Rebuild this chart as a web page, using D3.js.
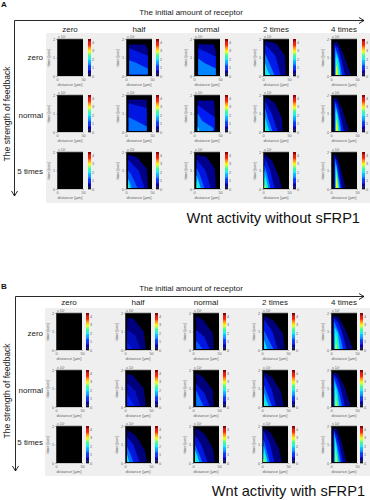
<!DOCTYPE html>
<html>
<head>
<meta charset="utf-8">
<script src="https://cdn.jsdelivr.net/npm/d3@7"></script>
<style>
  html, body { margin: 0; padding: 0; background: #fff; }
  text { font-family: "Liberation Sans", Arial, sans-serif; }
</style>
</head>
<body>
<div id="chart"></div>
<script>
const columnLabels = ["zero", "half", "normal", "2 times", "4 times"];
const rowLabels = ["zero", "normal", "5 times"];
const distanceTicks = [0, 50];
const timeTicks = [0, 1, 2];
const barTicks = [0, 1, 2, 3, 4];
// colour scale of the bars, level -> colour
const levelStops = [0, 0.5, 1, 2, 2.5, 3, 3.8, 4.4];
const levelColors = ["#000000", "#00009a", "#0020ff", "#00e8ff", "#40ff90", "#ffff00", "#ff1000", "#800000"];

// every panel: [level, outline as [distance, time]] painted from low to high
const blackPanel = [];

const aHalfZero = [
  [0.45, [[6, 1.7], [38, 1.7], [42, 1.4], [42, 0.08], [6, 0.08]]],
  [0.85, [[6, 1.5], [42, 1.1], [42, 0.08], [6, 0.08]]],
  [1.4, [[6, 0.85], [20, 0.7], [42, 0.4], [42, 0.08], [6, 0.08]]]
];
const aHalfNormal = [
  [0.45, [[5, 1.75], [40, 1.75], [40, 0.05], [5, 0.05]]],
  [0.85, [[5, 1.55], [40, 1.3], [40, 0.05], [5, 0.05]]],
  [1.4, [[5, 0.8], [20, 0.6], [40, 0.3], [40, 0.05], [5, 0.05]]]
];
const aHalfTimes = [
  [0.45, [[4, 1.85], [20, 1.75], [40, 1.1], [42, 0.05], [4, 0.05]]],
  [0.85, [[4, 1.6], [24, 1], [36, 0.05], [4, 0.05]]],
  [1.3, [[4, 1], [10, 0.8], [18, 0.3], [22, 0.05], [4, 0.05]]],
  [1.9, [[4, 0.55], [8, 0.3], [10, 0.05], [4, 0.05]]],
  [2.5, [[4, 0.3], [7, 0.05], [4, 0.05]]]
];
const aNormalZero = [
  [0.5, [[8, 1.72], [38, 1.7], [42, 1.3], [42, 0.05], [8, 0.05]]],
  [0.9, [[8, 1.5], [42, 1.05], [42, 0.05], [8, 0.05]]],
  [1.5, [[8, 0.95], [20, 0.7], [42, 0.4], [42, 0.05], [8, 0.05]]]
];
const aNormalNormal = [
  [0.5, [[7, 1.7], [38, 1.7], [40, 1.2], [40, 0.05], [7, 0.05]]],
  [0.95, [[7, 1.45], [40, 0.8], [40, 0.05], [7, 0.05]]],
  [1.5, [[7, 1], [16, 0.6], [38, 0.2], [36, 0.05], [7, 0.05]]],
  [2.1, [[7, 0.3], [11, 0.05], [7, 0.05]]]
];
const aNormalTimes = [
  [0.45, [[5, 1.85], [24, 1.75], [40, 1.1], [42, 0.05], [5, 0.05]]],
  [0.85, [[5, 1.6], [22, 1], [32, 0.05], [5, 0.05]]],
  [1.35, [[5, 1.15], [12, 0.7], [20, 0.05], [5, 0.05]]],
  [2, [[5, 0.75], [9, 0.4], [13, 0.05], [5, 0.05]]],
  [2.6, [[5, 0.45], [8, 0.05], [5, 0.05]]]
];
const aTwoZero = [
  [0.45, [[4, 1.9], [26, 1.75], [42, 1.1], [44, 0.05], [4, 0.05]]],
  [0.9, [[4, 1.7], [24, 1.1], [34, 0.05], [4, 0.05]]],
  [1.5, [[4, 1.2], [12, 0.7], [22, 0.05], [4, 0.05]]],
  [2.1, [[4, 0.7], [10, 0.2], [14, 0.05], [4, 0.05]]]
];
const aTwoNormal = [
  [0.45, [[4, 1.9], [22, 1.6], [36, 0.8], [38, 0.05], [4, 0.05]]],
  [0.9, [[4, 1.7], [18, 0.9], [28, 0.05], [4, 0.05]]],
  [1.5, [[4, 1.3], [10, 0.7], [18, 0.05], [4, 0.05]]],
  [2.05, [[4, 0.8], [8, 0.4], [12, 0.05], [4, 0.05]]],
  [2.5, [[4, 0.3], [7, 0.05], [4, 0.05]]]
];
const aTwoTimes = [
  [0.45, [[3, 1.9], [18, 1.5], [30, 0.7], [36, 0.05], [3, 0.05]]],
  [0.9, [[3, 1.75], [14, 1], [22, 0.05], [3, 0.05]]],
  [1.5, [[3, 1.3], [9, 0.7], [14, 0.05], [3, 0.05]]],
  [2, [[3, 1], [7, 0.5], [10, 0.05], [3, 0.05]]],
  [2.5, [[3, 0.65], [6, 0.3], [8, 0.05], [3, 0.05]]],
  [3, [[3, 0.25], [5, 0.05], [3, 0.05]]]
];
const aFourZero = [
  [0.4, [[5, 1.8], [12, 1.85], [24, 1.2], [38, 0.05], [5, 0.05]]],
  [0.9, [[7, 1.7], [14, 1.5], [20, 0.9], [27, 0.05], [7, 0.05]]],
  [1.5, [[8, 1.55], [14, 1.1], [18, 0.6], [21, 0.05], [8, 0.05]]],
  [2, [[9, 1.3], [14, 0.9], [16, 0.5], [18, 0.05], [9, 0.05]]],
  [2.5, [[9, 1.05], [13, 0.6], [15, 0.05], [9, 0.05]]],
  [3, [[10, 0.6], [12, 0.4], [13, 0.05], [10, 0.05]]]
];
const aFourNormal = [
  [0.4, [[5, 1.82], [11, 1.85], [22, 1.2], [35, 0.05], [5, 0.05]]],
  [0.9, [[7, 1.72], [13, 1.5], [18, 0.9], [25, 0.05], [7, 0.05]]],
  [1.5, [[8, 1.6], [13, 1.1], [17, 0.6], [20, 0.05], [8, 0.05]]],
  [2, [[9, 1.35], [13, 0.9], [15, 0.5], [17, 0.05], [9, 0.05]]],
  [2.5, [[9, 1.15], [12, 0.7], [14.5, 0.05], [9, 0.05]]],
  [3, [[10, 0.7], [12, 0.4], [13, 0.05], [10, 0.05]]]
];
const aFourTimes = [
  [0.4, [[5, 1.85], [10, 1.85], [18, 1.2], [28, 0.05], [5, 0.05]]],
  [0.9, [[7, 1.75], [12, 1.5], [16, 0.9], [21, 0.05], [7, 0.05]]],
  [1.5, [[8, 1.65], [12, 1.1], [15, 0.6], [18, 0.05], [8, 0.05]]],
  [2, [[9, 1.45], [12, 0.9], [14, 0.5], [16, 0.05], [9, 0.05]]],
  [2.5, [[9, 1.3], [11.5, 0.7], [14, 0.05], [9, 0.05]]],
  [3, [[10, 0.85], [12, 0.4], [13, 0.05], [10, 0.05]]]
];

const bHalfZero = [
  [0.4, [[4, 1.75], [16, 1.7], [36, 1], [40, 0.05], [4, 0.05]]],
  [0.65, [[4, 1.1], [20, 0.8], [30, 0.05], [4, 0.05]]],
  [0.9, [[4, 0.5], [14, 0.05], [4, 0.05]]]
];
const bHalfNormal = [
  [0.4, [[4, 1.8], [16, 1.7], [36, 1], [40, 0.05], [4, 0.05]]],
  [0.7, [[4, 1.3], [20, 0.85], [30, 0.05], [4, 0.05]]],
  [1, [[4, 0.7], [18, 0.05], [4, 0.05]]]
];
const bHalfTimes = [
  [0.4, [[4, 1.8], [20, 1.5], [38, 0.7], [42, 0.05], [4, 0.05]]],
  [0.85, [[4, 1.4], [16, 1], [28, 0.05], [4, 0.05]]],
  [1.4, [[4, 0.9], [10, 0.5], [16, 0.05], [4, 0.05]]],
  [2, [[4, 0.5], [8, 0.05], [4, 0.05]]]
];
const bNormalZero = [
  [0.4, [[6, 1.85], [20, 1.6], [38, 0.9], [40, 0.05], [6, 0.05]]],
  [0.85, [[6, 1.1], [22, 0.7], [32, 0.05], [6, 0.05]]],
  [1.3, [[6, 0.5], [12, 0.3], [18, 0.05], [6, 0.05]]]
];
const bNormalNormal = [
  [0.4, [[6, 1.85], [20, 1.6], [38, 0.9], [40, 0.05], [6, 0.05]]],
  [0.85, [[6, 1.25], [22, 0.75], [32, 0.05], [6, 0.05]]],
  [1.4, [[6, 0.9], [20, 0.05], [6, 0.05]]]
];
const bNormalTimes = [
  [0.4, [[4, 1.9], [22, 1.6], [38, 0.8], [42, 0.05], [4, 0.05]]],
  [0.85, [[4, 1.5], [16, 1], [28, 0.05], [4, 0.05]]],
  [1.4, [[4, 1], [10, 0.6], [18, 0.05], [4, 0.05]]],
  [2, [[4, 0.7], [8, 0.4], [12, 0.05], [4, 0.05]]],
  [2.5, [[4, 0.4], [6, 0.05], [4, 0.05]]]
];
const bTwoZero = [
  [0.4, [[4, 1.85], [22, 1.6], [40, 0.9], [44, 0.05], [4, 0.05]]],
  [0.85, [[4, 1.65], [20, 1], [30, 0.05], [4, 0.05]]],
  [1.4, [[4, 1.05], [12, 0.6], [22, 0.05], [4, 0.05]]],
  [2, [[4, 0.55], [10, 0.05], [4, 0.05]]]
];
const bTwoNormal = [
  [0.4, [[4, 1.88], [20, 1.6], [36, 0.85], [42, 0.05], [4, 0.05]]],
  [0.85, [[4, 1.7], [18, 1], [27, 0.05], [4, 0.05]]],
  [1.4, [[4, 1.2], [11, 0.65], [19, 0.05], [4, 0.05]]],
  [2, [[4, 0.8], [8, 0.4], [13, 0.05], [4, 0.05]]],
  [2.5, [[4, 0.35], [7, 0.05], [4, 0.05]]]
];
const bTwoTimes = [
  [0.4, [[3, 1.9], [18, 1.6], [32, 0.8], [38, 0.05], [3, 0.05]]],
  [0.85, [[3, 1.75], [15, 1.05], [24, 0.05], [3, 0.05]]],
  [1.4, [[3, 1.3], [9, 0.7], [15, 0.05], [3, 0.05]]],
  [2, [[3, 0.95], [7, 0.5], [11, 0.05], [3, 0.05]]],
  [2.5, [[3, 0.6], [6, 0.3], [8, 0.05], [3, 0.05]]],
  [3, [[3, 0.25], [5, 0.05], [3, 0.05]]]
];
const bFourZero = [
  [0.4, [[4, 1.85], [14, 1.8], [28, 1.1], [42, 0.05], [4, 0.05]]],
  [0.9, [[5, 1.75], [14, 1.5], [22, 0.9], [30, 0.05], [5, 0.05]]],
  [1.5, [[6, 1.55], [13, 1.1], [19, 0.6], [23, 0.05], [6, 0.05]]],
  [2, [[7, 1.25], [13, 0.9], [17, 0.05], [7, 0.05]]],
  [2.5, [[8, 0.95], [12, 0.6], [14, 0.05], [8, 0.05]]],
  [3, [[9, 0.45], [11, 0.05], [9, 0.05]]]
];
const bFourNormal = [
  [0.4, [[4, 1.85], [13, 1.8], [26, 1.1], [38, 0.05], [4, 0.05]]],
  [0.9, [[5, 1.78], [13, 1.5], [20, 0.9], [27, 0.05], [5, 0.05]]],
  [1.5, [[6, 1.6], [12, 1.1], [17, 0.6], [21, 0.05], [6, 0.05]]],
  [2, [[7, 1.35], [12, 0.9], [16, 0.05], [7, 0.05]]],
  [2.5, [[8, 1.05], [11, 0.6], [14, 0.05], [8, 0.05]]],
  [3, [[9, 0.55], [11, 0.05], [9, 0.05]]]
];
const bFourTimes = [
  [0.4, [[4, 1.88], [11, 1.85], [20, 1.2], [30, 0.05], [4, 0.05]]],
  [0.9, [[5, 1.8], [11, 1.5], [17, 0.9], [23, 0.05], [5, 0.05]]],
  [1.5, [[6, 1.7], [11, 1.1], [15, 0.6], [19, 0.05], [6, 0.05]]],
  [2, [[7, 1.5], [11, 0.9], [15, 0.05], [7, 0.05]]],
  [2.5, [[8, 1.2], [10, 0.7], [13, 0.05], [8, 0.05]]],
  [3, [[9, 0.75], [11, 0.05], [9, 0.05]]]
];

const panelsA = [
  [blackPanel, aHalfZero, aNormalZero, aTwoZero, aFourZero],
  [blackPanel, aHalfNormal, aNormalNormal, aTwoNormal, aFourNormal],
  [blackPanel, aHalfTimes, aNormalTimes, aTwoTimes, aFourTimes]
];
const panelsB = [
  [blackPanel, bHalfZero, bNormalZero, bTwoZero, bFourZero],
  [blackPanel, bHalfNormal, bNormalNormal, bTwoNormal, bFourNormal],
  [blackPanel, bHalfTimes, bNormalTimes, bTwoTimes, bFourTimes]
];

const svg = d3.select("#chart").append("svg")
  .attr("width", 370).attr("height", 500)
  .style("display", "block");

svg.append("defs").append("filter").attr("id", "soft")
  .append("feGaussianBlur").attr("stdDeviation", 0.5);

const color = d3.scaleLinear().domain(levelStops).range(levelColors);

function drawPanel(g, bands, x0, y0, barX) {
  const x = d3.scaleLinear().domain([0, 50]).range([x0, x0 + 26]);
  const y = d3.scaleLinear().domain([0, 2]).range([y0 + 37, y0]);
  const outline = d3.line().x(d => x(d[0])).y(d => y(d[1]));

  g.append("rect")
    .attr("x", x0).attr("y", y0).attr("width", 26).attr("height", 37)
    .attr("fill", "#000");

  g.append("g").attr("filter", "url(#soft)")
    .selectAll("path").data(bands).enter().append("path")
    .attr("d", d => outline(d[1]) + "Z")
    .attr("fill", d => color(d[0]));

  g.append("line")
    .attr("x1", x0).attr("x2", x0 + 26).attr("y1", y0).attr("y2", y0)
    .attr("stroke", "#777").attr("stroke-width", 0.7);

  const xAxis = g.append("g")
    .attr("transform", "translate(0," + (y0 + 37) + ")")
    .call(d3.axisBottom(x).tickValues(distanceTicks).tickFormat(d3.format("d")).tickSize(1).tickPadding(1.5));
  const yAxis = g.append("g")
    .attr("transform", "translate(" + x0 + ",0)")
    .call(d3.axisLeft(y).tickValues(timeTicks).tickFormat(d3.format("d")).tickSize(1).tickPadding(1));
  [xAxis, yAxis].forEach(a => {
    a.select(".domain").attr("stroke", "#999").attr("stroke-width", 0.4);
    a.selectAll("line").attr("stroke", "#888").attr("stroke-width", 0.4);
    a.selectAll("text").attr("fill", "#666").style("font-size", "3.8px")
      .style("font-family", "Liberation Sans");
  });

  g.append("text").attr("x", x0 + 1).attr("y", y0 - 1.5)
    .attr("font-size", 3.6).attr("fill", "#666").text("x 10\u2077");
  g.append("text").attr("x", x0 + 13).attr("y", y0 + 47)
    .attr("text-anchor", "middle").attr("font-size", 4.2).attr("fill", "#666")
    .text("distance [\u03bcm]");
  g.append("text")
    .attr("transform", "translate(" + (x0 - 7) + "," + (y0 + 18.5) + ") rotate(-90)")
    .attr("text-anchor", "middle").attr("font-size", 4.2).attr("fill", "#666")
    .text("time [sec]");

  // colour bar
  const bar = d3.scaleLinear().domain([0, 4.4]).range([y0 + 37, y0]);
  g.append("g").selectAll("rect").data(d3.range(0, 4.4, 0.1)).enter().append("rect")
    .attr("x", barX).attr("width", 3)
    .attr("y", d => bar(d + 0.1))
    .attr("height", d => bar(d) - bar(d + 0.1) + 0.3)
    .attr("fill", d => color(d + 0.05));
  const barAxis = g.append("g")
    .attr("transform", "translate(" + (barX + 3) + ",0)")
    .call(d3.axisRight(bar).tickValues(barTicks).tickFormat(d3.format("d")).tickSize(0).tickPadding(1));
  barAxis.select(".domain").remove();
  barAxis.selectAll("text").attr("fill", "#666").style("font-size", "3.8px")
    .style("font-family", "Liberation Sans");
}

function arrowHead(g, x, y, dx, dy) {
  g.append("path")
    .attr("d", d3.line()([[x - 5 * dx + 3 * dy, y - 5 * dy + 3 * dx], [x, y], [x - 5 * dx - 3 * dy, y - 5 * dy - 3 * dx]]))
    .attr("fill", "none").attr("stroke", "#111").attr("stroke-width", 0.9);
}

function drawFigure(opts, panels) {
  const g = svg.append("g");

  g.append("rect")
    .attr("x", opts.bgX).attr("y", opts.bgY)
    .attr("width", 370 - opts.bgX).attr("height", opts.bgH)
    .attr("fill", "#efefef");

  g.append("text").attr("x", 1).attr("y", opts.letterY)
    .attr("font-size", 8).attr("font-weight", "bold").attr("fill", "#111")
    .text(opts.letter);

  g.append("text").attr("x", 191).attr("y", opts.topY - 5.5)
    .attr("text-anchor", "middle").attr("font-size", 8).attr("fill", "#222")
    .text("The initial amount of receptor");

  g.append("line")
    .attr("x1", opts.axisX).attr("x2", 364).attr("y1", opts.topY).attr("y2", opts.topY)
    .attr("stroke", "#111").attr("stroke-width", 0.9);
  g.append("line")
    .attr("x1", opts.axisX).attr("x2", opts.axisX).attr("y1", opts.topY).attr("y2", opts.axisEnd)
    .attr("stroke", "#111").attr("stroke-width", 0.9);
  arrowHead(g, 364, opts.topY, 1, 0);
  arrowHead(g, opts.axisX, opts.axisEnd, 0, 1);

  g.append("text")
    .attr("transform", "translate(10," + opts.sideY + ") rotate(-90)")
    .attr("text-anchor", "middle").attr("font-size", 8.6).attr("fill", "#222")
    .text("The strength of feedback");

  columnLabels.forEach((label, c) => {
    g.append("text").attr("x", opts.cols[c] + 13).attr("y", opts.labelY)
      .attr("text-anchor", "middle").attr("font-size", 8).attr("fill", "#222")
      .text(label);
  });
  rowLabels.forEach((label, r) => {
    g.append("text").attr("x", 43).attr("y", opts.rowLabelY[r])
      .attr("text-anchor", "end").attr("font-size", 8).attr("fill", "#222")
      .text(label);
    columnLabels.forEach((_, c) => {
      drawPanel(g.append("g"), panels[r][c], opts.cols[c], opts.rows[r], opts.bars[c]);
    });
  });

  g.append("text").attr("x", opts.titleX).attr("y", opts.titleY)
    .attr("text-anchor", "end").attr("font-size", 14.6).attr("fill", "#111")
    .text(opts.title);
}

drawFigure({
  letter: "A", letterY: 7, title: "Wnt activity without sFRP1", titleX: 360, titleY: 223,
  bgX: 46, bgY: 33, bgH: 170, axisX: 14.5, topY: 20.5, axisEnd: 196, sideY: 114, labelY: 32,
  cols: [57, 126, 194, 263, 331], bars: [88, 156, 225, 293, 362], rows: [39, 95, 152],
  rowLabelY: [60, 118, 174]
}, panelsA);

drawFigure({
  letter: "B", letterY: 289, title: "Wnt activity with sFRP1", titleX: 365, titleY: 496,
  bgX: 45, bgY: 308, bgH: 168, axisX: 15.5, topY: 296.5, axisEnd: 471, sideY: 391, labelY: 305,
  cols: [56, 125, 193, 262, 331], bars: [86, 155, 223, 292, 360], rows: [313, 370, 426],
  rowLabelY: [336, 393, 445]
}, panelsB);
</script>
</body>
</html>
